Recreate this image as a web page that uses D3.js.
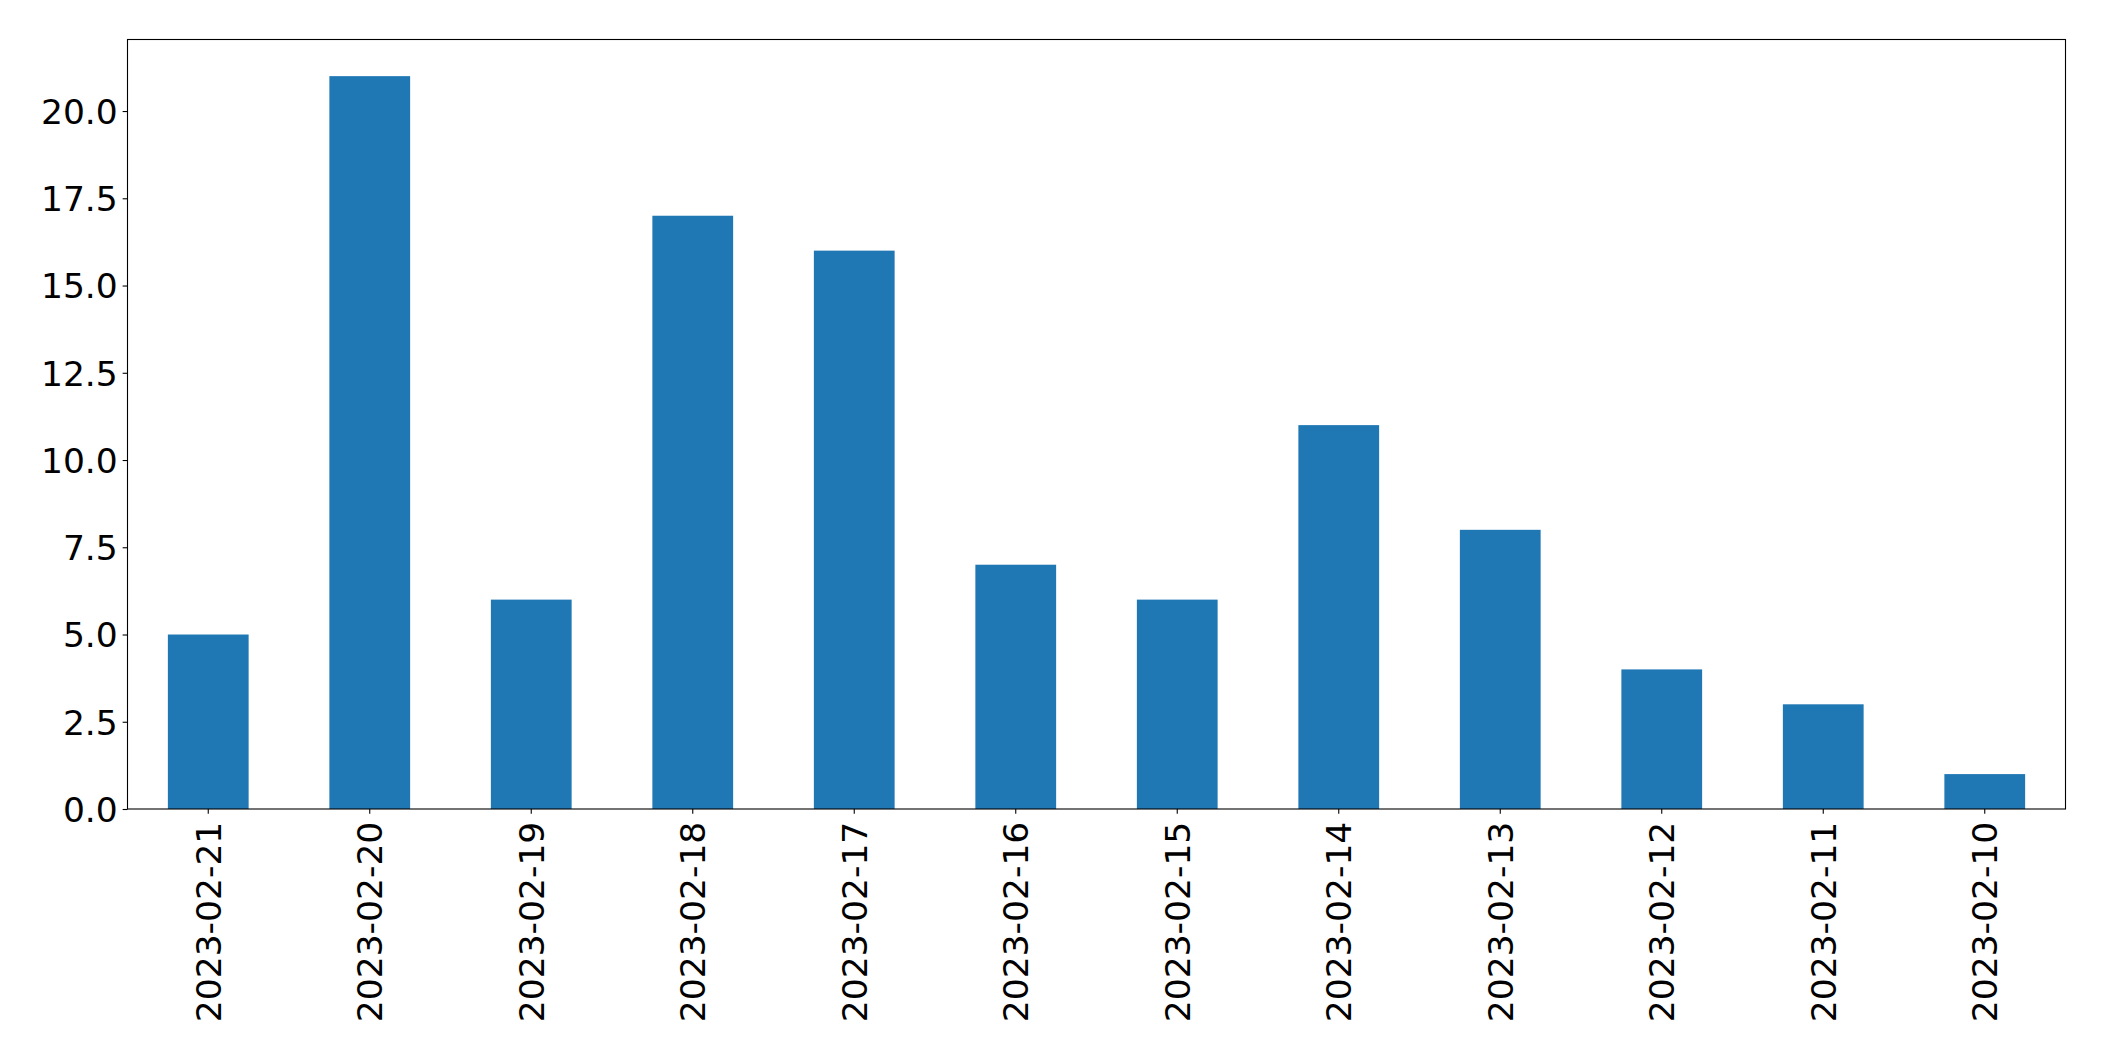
<!DOCTYPE html>
<html>
<head>
<meta charset="utf-8">
<script src="https://cdn.jsdelivr.net/npm/d3@7"></script>
<style>
  html, body { margin: 0; padding: 0; background: #fff; }
  svg { display: block; }
  text { font-family: "DejaVu Sans", sans-serif; fill: #000; }
</style>
</head>
<body>
<script>
const categories = ["2023-02-21","2023-02-20","2023-02-19","2023-02-18","2023-02-17","2023-02-16","2023-02-15","2023-02-14","2023-02-13","2023-02-12","2023-02-11","2023-02-10"];
const values = [5, 21, 6, 17, 16, 7, 6, 11, 8, 4, 3, 1];
const yTicks = [0, 2.5, 5, 7.5, 10, 12.5, 15, 17.5, 20];

const W = 2104, H = 1061;
const mLeft = 127.5, mRight = 2065.5, mTop = 39.5, mBottom = 809;
const fontSize = 34.5, tickLen = 4.86, pad = 4.86;

const svg = d3.select("body").append("svg").attr("width", W).attr("height", H);

const x = d3.scaleBand().domain(categories).range([mLeft, mRight]).paddingInner(0.5).paddingOuter(0.25);
const yMax = d3.max(values) * 1.05;
const y = d3.scaleLinear().domain([0, yMax]).range([mBottom, mTop]);

svg.append("g").selectAll("rect").data(values).join("rect")
  .attr("x", (d, i) => x(categories[i]))
  .attr("width", x.bandwidth())
  .attr("y", d => y(d))
  .attr("height", d => y(0) - y(d))
  .attr("fill", "#1f77b4");

// y axis
const yAxis = d3.axisLeft(y).tickValues(yTicks).tickFormat(d3.format(".1f")).tickSize(tickLen).tickPadding(pad);
const gy = svg.append("g").attr("transform", `translate(${mLeft},0)`).call(yAxis);
gy.select(".domain").remove();
gy.selectAll("line").attr("stroke", "#000").attr("stroke-width", 1.1);
gy.selectAll("text").attr("font-size", fontSize).attr("font-family", "DejaVu Sans, sans-serif").attr("dy", "0.36em");

// x axis
const xAxis = d3.axisBottom(x).tickSize(tickLen).tickPadding(pad);
const gx = svg.append("g").attr("transform", `translate(0,${mBottom})`).call(xAxis);
gx.select(".domain").remove();
gx.selectAll("line").attr("stroke", "#000").attr("stroke-width", 1.1);
gx.selectAll("text")
  .attr("font-size", fontSize)
  .attr("font-family", "DejaVu Sans, sans-serif")
  .attr("text-anchor", "end")
  .attr("transform", `translate(0,${tickLen + pad + 3}) rotate(-90)`)
  .attr("x", 0).attr("y", 0)
  .attr("dy", "0.36em");

// frame
svg.append("rect").attr("x", mLeft).attr("y", mTop).attr("width", mRight - mLeft).attr("height", mBottom - mTop)
  .attr("fill", "none").attr("stroke", "#000").attr("stroke-width", 1.1);
</script>
</body>
</html>
